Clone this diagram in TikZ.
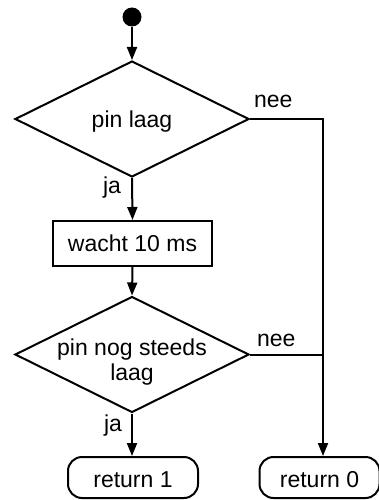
\documentclass[tikz,border=0pt]{standalone}
\usepackage{fontspec}
\setmainfont{Liberation Sans}
\usetikzlibrary{shapes.geometric,arrows.meta,calc}
\begin{document}
\begin{tikzpicture}[x=1pt,y=-1pt,
  line width=2pt,
  font=\fontsize{23}{25}\selectfont,
  flow/.style={-{Triangle[length=13pt,width=10pt]}},
  decision/.style={draw,diamond,minimum width=234pt,minimum height=116pt,inner sep=0pt},
  action/.style={draw,rectangle,minimum width=159pt,minimum height=45pt,inner sep=0pt},
  terminal/.style={draw,rectangle,rounded corners=14pt,minimum height=41pt,inner sep=0pt,text height=20pt,text depth=0pt},
  lbl/.style={inner sep=0pt}]
\useasboundingbox (0,0) rectangle (379,500);

% start point
\node[circle,fill,inner sep=0pt,minimum size=19pt] (start) at (132,17) {};

% decisions and steps
\node[decision] (d1) at (132,119) {};
\node[lbl] (t1) at (132,122) {pin laag};
\node[action] (wait) at (132.5,243.5) {wacht 10 ms};
\node[decision] (d2) at (132,354.5) {};
\node[lbl,align=center] (t2) at (132,362) {pin nog steeds\\laag};

% end points
\node[terminal,minimum width=130pt] (r1) at (133,477.5) {return 1};
\node[terminal,minimum width=120pt] (r0) at (319.5,477.5) {return 0};

% right-hand "nee" rail
\coordinate (j1) at (323,119);
\coordinate (j2) at (323,354.5);

% connectors
\draw[flow] (start) -- (d1.north);
\draw[flow] (d1.south) -- (wait.north);
\draw[flow] (wait.south) -- (d2.north);
\draw[flow] (d2.south) -- (d2.south |- r1.north);
\draw[flow] (d1.east) -- (j1) -- (j1 |- r0.north);
\draw (d2.east) -- (j2);

% branch labels
\node[lbl,anchor=base west] (nee1) at (253,108) {nee};
\node[lbl,anchor=base west] (nee2) at (256,346) {nee};
\node[lbl,anchor=base east] (ja1) at (122,193) {ja};
\node[lbl,anchor=base east] (ja2) at (123,431) {ja};
\end{tikzpicture}
\end{document}
